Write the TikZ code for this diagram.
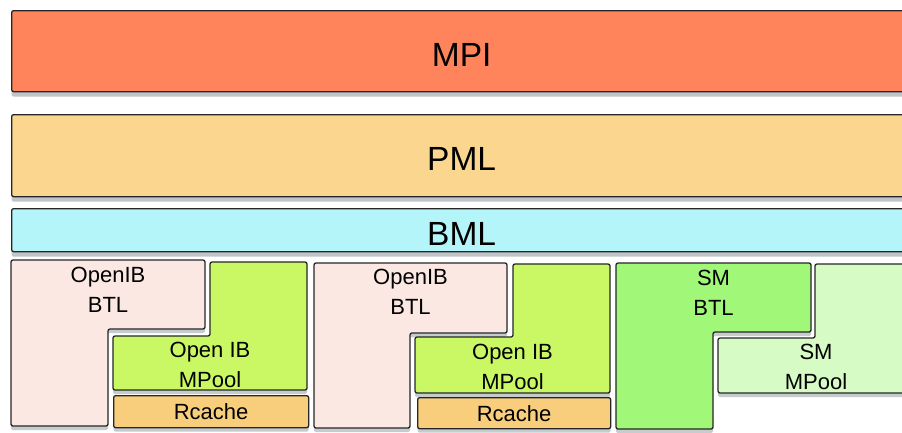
\documentclass[tikz,border=0pt]{standalone}
\usepackage{fontspec}
\setmainfont{Liberation Sans}
\usetikzlibrary{shadows}
\definecolor{mpic}{RGB}{255,132,92}
\definecolor{pmlc}{RGB}{250,214,142}
\definecolor{bmlc}{RGB}{180,245,250}
\definecolor{ibbtlc}{RGB}{252,232,227}
\definecolor{ibmpoolc}{RGB}{202,248,100}
\definecolor{rcachec}{RGB}{248,206,124}
\definecolor{smbtlc}{RGB}{160,247,120}
\definecolor{smmpoolc}{RGB}{214,251,196}
\tikzset{
  layerbox/.style={draw=black!85, line width=1.3pt, rounded corners=2pt,
    drop shadow={shadow xshift=0pt, shadow yshift=-5pt, opacity=0.45, fill=black!60!cyan!40!gray}},
  partbox/.style={draw=black!85, line width=1.3pt, rounded corners=2pt,
    drop shadow={shadow xshift=0pt, shadow yshift=-4pt, opacity=0.4, fill=black!60!cyan!40!gray}},
  biglbl/.style={text height=30pt, font=\fontsize{33.5}{38}\selectfont},
  lbl/.style={inner sep=0pt, align=center, font=\fontsize{22}{30}\selectfont}
}

\begin{document}
\begin{tikzpicture}[x=1pt, y=-1pt]
        \useasboundingbox (0,0) rectangle (902,432);
        \fill[white] (0,0) rectangle (902,432);
        \clip (0,0) rectangle (902,432);

        % layers
        \node[layerbox, anchor=north west, fill=mpic, minimum width=900pt, minimum height=81pt, biglbl]
        (mpi) at (11,10) {MPI};
        \node[layerbox, anchor=north west, fill=pmlc, minimum width=900pt, minimum height=82pt, biglbl]
        (pml) at (11,114) {PML};
        \node[layerbox, anchor=north west, fill=bmlc, minimum width=900pt, minimum height=43pt, biglbl]
        (bml) at (11,208) {BML};

        % openib, first
        \draw[partbox, fill=ibbtlc] (11,260) -- (205,260) -- (205,329) -- (108,329) -- (108,426) -- (11,426) -- cycle;
        \draw[partbox, fill=ibmpoolc] (210,262) -- (307,262) -- (307,390) -- (113,390) -- (113,336) -- (210,336) -- cycle;
        \node[partbox, anchor=north west, fill=rcachec, minimum width=195pt, minimum height=32pt, font=\fontsize{22}{30}\selectfont]
        (rcacheA) at (113,395) {Rcache};
        \node[lbl, anchor=north] (ibbtlA) at (108,267) {OpenIB\\BTL};
        \node[lbl, anchor=north] (ibmpoolA) at (210,342) {Open IB\\MPool};

        % openib, second
        \draw[partbox, fill=ibbtlc] (314,263) -- (507,263) -- (507,333) -- (410,333) -- (410,428) -- (314,428) -- cycle;
        \draw[partbox, fill=ibmpoolc] (513,264) -- (610,264) -- (610,393) -- (415,393) -- (415,337) -- (513,337) -- cycle;
        \node[partbox, anchor=north west, fill=rcachec, minimum width=193pt, minimum height=31pt, font=\fontsize{22}{30}\selectfont]
        (rcacheB) at (417,397) {Rcache};
        \node[lbl, anchor=north] (ibbtlB) at (410.5,269) {OpenIB\\BTL};
        \node[lbl, anchor=north] (ibmpoolB) at (512.5,344) {Open IB\\MPool};

        % shared memory
        \draw[partbox, fill=smbtlc] (616,263) -- (811,263) -- (811,332) -- (713,332) -- (713,429) -- (616,429) -- cycle;
        \draw[partbox, fill=smmpoolc] (815,264) -- (914,264) -- (914,393) -- (718,393) -- (718,338) -- (815,338) -- cycle;
        \node[lbl, anchor=north] (smbtl) at (713.5,270) {SM\\BTL};
        \node[lbl, anchor=north] (smmpool) at (816,344) {SM\\MPool};
\end{tikzpicture}
\end{document}
